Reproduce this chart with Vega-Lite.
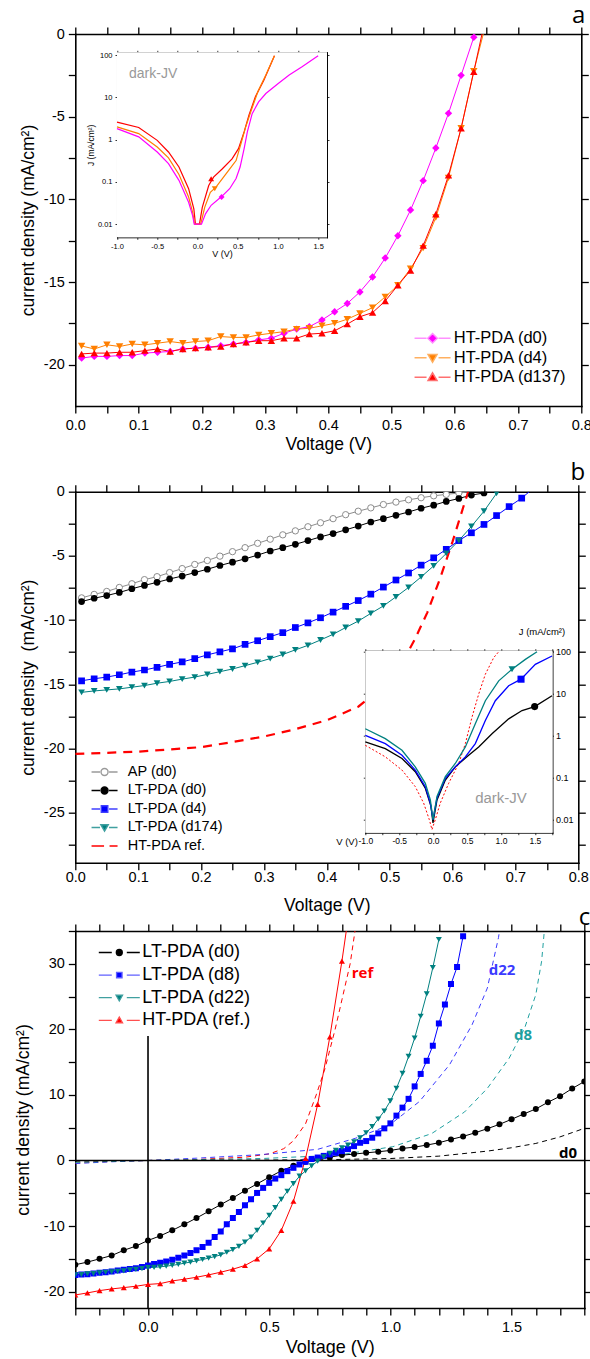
{
"$schema": "https://vega.github.io/schema/vega-lite/v6.json",
"background": "white",
"padding": {"left": 14.3, "top": 4, "right": 2, "bottom": 0},
"spacing": -7,
"config": {
 "font": "Liberation Sans",
 "view": {"stroke": null},
 "axis": {"grid": false, "zindex": 1, "labelFont": "Liberation Sans", "titleFont": "Liberation Sans", "labelColor": "#000", "titleColor": "#000", "domainColor": "#000", "tickColor": "#000", "labelFontSize": 14.5, "titleFontSize": 17.5, "titleFontWeight": "normal", "domainWidth": 1.6, "tickWidth": 1.3, "tickSize": 7, "labelOverlap": false, "labelFlush": false, "labelBound": false, "domainCap": "square"},
 "legend": {"labelFont": "Liberation Sans", "labelColor": "#000", "padding": 0, "titlePadding": 0},
 "title": {"font": "Open Sans", "fontWeight": "normal", "color": "#000", "fontSize": 24, "anchor": "end", "baseline": "alphabetic", "frame": "group"}
},
"resolve": {"scale": {"color": "independent", "shape": "independent", "fill": "independent", "stroke": "independent"}, "legend": {"color": "independent", "shape": "independent", "fill": "independent", "stroke": "independent"}},
"datasets": {
 "a_main": [
  {"s":"d0","v":0.01,"j":-19.6},{"s":"d0","v":0.03,"j":-19.5},{"s":"d0","v":0.05,"j":-19.5},{"s":"d0","v":0.07,"j":-19.45},{"s":"d0","v":0.09,"j":-19.45},{"s":"d0","v":0.11,"j":-19.3},{"s":"d0","v":0.13,"j":-19.25},{"s":"d0","v":0.15,"j":-19.2},{"s":"d0","v":0.17,"j":-19.05},{"s":"d0","v":0.19,"j":-19.0},{"s":"d0","v":0.21,"j":-18.95},{"s":"d0","v":0.23,"j":-18.85},{"s":"d0","v":0.25,"j":-18.75},{"s":"d0","v":0.27,"j":-18.65},{"s":"d0","v":0.29,"j":-18.5},{"s":"d0","v":0.31,"j":-18.4},{"s":"d0","v":0.33,"j":-18.1},{"s":"d0","v":0.35,"j":-17.85},{"s":"d0","v":0.37,"j":-17.7},{"s":"d0","v":0.39,"j":-17.3},{"s":"d0","v":0.41,"j":-16.8},{"s":"d0","v":0.43,"j":-16.3},{"s":"d0","v":0.45,"j":-15.6},{"s":"d0","v":0.47,"j":-14.7},{"s":"d0","v":0.49,"j":-13.55},{"s":"d0","v":0.51,"j":-12.2},{"s":"d0","v":0.53,"j":-10.65},{"s":"d0","v":0.55,"j":-8.87},{"s":"d0","v":0.57,"j":-6.9},{"s":"d0","v":0.59,"j":-4.8},{"s":"d0","v":0.61,"j":-2.5},{"s":"d0","v":0.63,"j":-0.2},{"s":"d0","v":0.632,"j":0,"e":1},
  {"s":"d4","v":0.01,"j":-18.87},{"s":"d4","v":0.03,"j":-19.05},{"s":"d4","v":0.05,"j":-18.8},{"s":"d4","v":0.07,"j":-18.9},{"s":"d4","v":0.09,"j":-18.75},{"s":"d4","v":0.11,"j":-18.8},{"s":"d4","v":0.13,"j":-18.7},{"s":"d4","v":0.15,"j":-18.6},{"s":"d4","v":0.17,"j":-18.7},{"s":"d4","v":0.19,"j":-18.6},{"s":"d4","v":0.21,"j":-18.55},{"s":"d4","v":0.23,"j":-18.3},{"s":"d4","v":0.25,"j":-18.35},{"s":"d4","v":0.27,"j":-18.35},{"s":"d4","v":0.29,"j":-18.2},{"s":"d4","v":0.31,"j":-18.1},{"s":"d4","v":0.33,"j":-18.0},{"s":"d4","v":0.35,"j":-17.85},{"s":"d4","v":0.37,"j":-17.8},{"s":"d4","v":0.39,"j":-17.65},{"s":"d4","v":0.41,"j":-17.5},{"s":"d4","v":0.43,"j":-17.25},{"s":"d4","v":0.45,"j":-16.9},{"s":"d4","v":0.47,"j":-16.55},{"s":"d4","v":0.49,"j":-15.9},{"s":"d4","v":0.51,"j":-15.2},{"s":"d4","v":0.53,"j":-14.2},{"s":"d4","v":0.55,"j":-12.95},{"s":"d4","v":0.57,"j":-11.1},{"s":"d4","v":0.59,"j":-8.7},{"s":"d4","v":0.61,"j":-5.7},{"s":"d4","v":0.63,"j":-2.25},{"s":"d4","v":0.645,"j":0,"e":1},
  {"s":"d137","v":0.01,"j":-19.35},{"s":"d137","v":0.03,"j":-19.3},{"s":"d137","v":0.05,"j":-19.3},{"s":"d137","v":0.07,"j":-19.25},{"s":"d137","v":0.09,"j":-19.25},{"s":"d137","v":0.11,"j":-19.15},{"s":"d137","v":0.13,"j":-19.05},{"s":"d137","v":0.15,"j":-19.2},{"s":"d137","v":0.17,"j":-19.05},{"s":"d137","v":0.19,"j":-19.0},{"s":"d137","v":0.21,"j":-18.95},{"s":"d137","v":0.23,"j":-18.9},{"s":"d137","v":0.25,"j":-18.75},{"s":"d137","v":0.27,"j":-18.65},{"s":"d137","v":0.29,"j":-18.55},{"s":"d137","v":0.31,"j":-18.55},{"s":"d137","v":0.33,"j":-18.4},{"s":"d137","v":0.35,"j":-18.4},{"s":"d137","v":0.37,"j":-18.15},{"s":"d137","v":0.39,"j":-18.1},{"s":"d137","v":0.41,"j":-17.95},{"s":"d137","v":0.43,"j":-17.55},{"s":"d137","v":0.45,"j":-17.1},{"s":"d137","v":0.47,"j":-16.85},{"s":"d137","v":0.49,"j":-16.15},{"s":"d137","v":0.51,"j":-15.2},{"s":"d137","v":0.53,"j":-14.3},{"s":"d137","v":0.55,"j":-12.8},{"s":"d137","v":0.57,"j":-10.9},{"s":"d137","v":0.59,"j":-8.55},{"s":"d137","v":0.61,"j":-5.7},{"s":"d137","v":0.63,"j":-2.28},{"s":"d137","v":0.643,"j":0,"e":1}
 ],
 "a_inset": [
  {"s":"d137","v":-1,"j":2.6},{"s":"d137","v":-0.73,"j":1.93},{"s":"d137","v":-0.5,"j":0.96},{"s":"d137","v":-0.36,"j":0.51},{"s":"d137","v":-0.23,"j":0.225},{"s":"d137","v":-0.11,"j":0.069},{"s":"d137","v":-0.045,"j":0.023},{"s":"d137","v":-0.025,"j":0.01},{"s":"d137","v":0.025,"j":0.01},{"s":"d137","v":0.06,"j":0.025},{"s":"d137","v":0.14,"j":0.082},{"s":"d137","v":0.2,"j":0.13},{"s":"d137","v":0.31,"j":0.205},{"s":"d137","v":0.43,"j":0.35},{"s":"d137","v":0.51,"j":0.61},{"s":"d137","v":0.58,"j":1.52},{"s":"d137","v":0.64,"j":3.8},{"s":"d137","v":0.72,"j":10.3},{"s":"d137","v":0.825,"j":25.5},{"s":"d137","v":0.957,"j":96},
  {"s":"d4","v":-1,"j":2.0},{"s":"d4","v":-0.73,"j":1.39},{"s":"d4","v":-0.5,"j":0.67},{"s":"d4","v":-0.36,"j":0.37},{"s":"d4","v":-0.23,"j":0.15},{"s":"d4","v":-0.11,"j":0.044},{"s":"d4","v":-0.06,"j":0.019},{"s":"d4","v":-0.035,"j":0.01},{"s":"d4","v":0.04,"j":0.01},{"s":"d4","v":0.09,"j":0.025},{"s":"d4","v":0.16,"j":0.057},{"s":"d4","v":0.23,"j":0.075},{"s":"d4","v":0.31,"j":0.12},{"s":"d4","v":0.39,"j":0.19},{"s":"d4","v":0.48,"j":0.32},{"s":"d4","v":0.54,"j":0.8},{"s":"d4","v":0.6,"j":2.0},{"s":"d4","v":0.67,"j":5.0},{"s":"d4","v":0.75,"j":13.5},{"s":"d4","v":0.85,"j":33.5},{"s":"d4","v":0.957,"j":96},
  {"s":"d0","v":-1,"j":1.82},{"s":"d0","v":-0.73,"j":1.16},{"s":"d0","v":-0.5,"j":0.51},{"s":"d0","v":-0.36,"j":0.27},{"s":"d0","v":-0.23,"j":0.109},{"s":"d0","v":-0.11,"j":0.033},{"s":"d0","v":-0.06,"j":0.016},{"s":"d0","v":-0.04,"j":0.01},{"s":"d0","v":0.05,"j":0.01},{"s":"d0","v":0.1,"j":0.0176},{"s":"d0","v":0.17,"j":0.028},{"s":"d0","v":0.3,"j":0.045},{"s":"d0","v":0.4,"j":0.069},{"s":"d0","v":0.48,"j":0.12},{"s":"d0","v":0.53,"j":0.225},{"s":"d0","v":0.58,"j":0.61},{"s":"d0","v":0.62,"j":1.52},{"s":"d0","v":0.68,"j":4.1},{"s":"d0","v":0.76,"j":7.8},{"s":"d0","v":0.85,"j":12.3},{"s":"d0","v":1.0,"j":21},{"s":"d0","v":1.14,"j":33.5},{"s":"d0","v":1.3,"j":52.6},{"s":"d0","v":1.5,"j":96}
 ],
 "a_mk": [{"s":"d137","v":0.17,"j":0.119},{"s":"d4","v":0.215,"j":0.069},{"s":"d0","v":0.3,"j":0.044}],
 "a_box": [{"x1":-1,"x2":1.61,"y1":0.0049,"y2":116}],
 "a_txt": [{"v":-0.85,"j":35,"t":"dark-JV"}],
 "b_main": [
  {"s":"AP","v":0.01,"j":-8.27},{"s":"AP","v":0.03,"j":-8.0},{"s":"AP","v":0.05,"j":-7.77},{"s":"AP","v":0.07,"j":-7.46},{"s":"AP","v":0.09,"j":-7.17},{"s":"AP","v":0.11,"j":-6.85},{"s":"AP","v":0.13,"j":-6.62},{"s":"AP","v":0.15,"j":-6.3},{"s":"AP","v":0.17,"j":-5.99},{"s":"AP","v":0.19,"j":-5.67},{"s":"AP","v":0.21,"j":-5.36},{"s":"AP","v":0.23,"j":-5.02},{"s":"AP","v":0.25,"j":-4.67},{"s":"AP","v":0.27,"j":-4.36},{"s":"AP","v":0.29,"j":-4.02},{"s":"AP","v":0.31,"j":-3.7},{"s":"AP","v":0.33,"j":-3.36},{"s":"AP","v":0.35,"j":-3.05},{"s":"AP","v":0.37,"j":-2.73},{"s":"AP","v":0.39,"j":-2.42},{"s":"AP","v":0.41,"j":-2.1},{"s":"AP","v":0.43,"j":-1.79},{"s":"AP","v":0.45,"j":-1.52},{"s":"AP","v":0.47,"j":-1.26},{"s":"AP","v":0.49,"j":-1.0},{"s":"AP","v":0.51,"j":-0.81},{"s":"AP","v":0.53,"j":-0.63},{"s":"AP","v":0.55,"j":-0.47},{"s":"AP","v":0.57,"j":-0.32},{"s":"AP","v":0.59,"j":-0.21},{"s":"AP","v":0.61,"j":-0.1},{"s":"AP","v":0.63,"j":0,"e":1},
  {"s":"L0","v":0.01,"j":-8.56},{"s":"L0","v":0.03,"j":-8.3},{"s":"L0","v":0.05,"j":-8.09},{"s":"L0","v":0.07,"j":-7.85},{"s":"L0","v":0.09,"j":-7.56},{"s":"L0","v":0.11,"j":-7.3},{"s":"L0","v":0.13,"j":-7.06},{"s":"L0","v":0.15,"j":-6.8},{"s":"L0","v":0.17,"j":-6.57},{"s":"L0","v":0.19,"j":-6.3},{"s":"L0","v":0.21,"j":-6.04},{"s":"L0","v":0.23,"j":-5.75},{"s":"L0","v":0.25,"j":-5.49},{"s":"L0","v":0.27,"j":-5.23},{"s":"L0","v":0.29,"j":-4.94},{"s":"L0","v":0.31,"j":-4.62},{"s":"L0","v":0.33,"j":-4.36},{"s":"L0","v":0.35,"j":-4.1},{"s":"L0","v":0.37,"j":-3.81},{"s":"L0","v":0.39,"j":-3.52},{"s":"L0","v":0.41,"j":-3.26},{"s":"L0","v":0.43,"j":-2.97},{"s":"L0","v":0.45,"j":-2.68},{"s":"L0","v":0.47,"j":-2.36},{"s":"L0","v":0.49,"j":-2.1},{"s":"L0","v":0.51,"j":-1.84},{"s":"L0","v":0.53,"j":-1.58},{"s":"L0","v":0.55,"j":-1.29},{"s":"L0","v":0.57,"j":-1.05},{"s":"L0","v":0.59,"j":-0.76},{"s":"L0","v":0.61,"j":-0.53},{"s":"L0","v":0.63,"j":-0.26},{"s":"L0","v":0.65,"j":-0.1},{"s":"L0","v":0.655,"j":0,"e":1},
  {"s":"L4","v":0.01,"j":-14.73},{"s":"L4","v":0.03,"j":-14.57},{"s":"L4","v":0.05,"j":-14.44},{"s":"L4","v":0.07,"j":-14.26},{"s":"L4","v":0.09,"j":-14.05},{"s":"L4","v":0.11,"j":-13.89},{"s":"L4","v":0.13,"j":-13.68},{"s":"L4","v":0.15,"j":-13.45},{"s":"L4","v":0.17,"j":-13.26},{"s":"L4","v":0.19,"j":-13.0},{"s":"L4","v":0.21,"j":-12.71},{"s":"L4","v":0.23,"j":-12.47},{"s":"L4","v":0.25,"j":-12.24},{"s":"L4","v":0.27,"j":-11.9},{"s":"L4","v":0.29,"j":-11.61},{"s":"L4","v":0.31,"j":-11.29},{"s":"L4","v":0.33,"j":-10.98},{"s":"L4","v":0.35,"j":-10.58},{"s":"L4","v":0.37,"j":-10.22},{"s":"L4","v":0.39,"j":-9.82},{"s":"L4","v":0.41,"j":-9.38},{"s":"L4","v":0.43,"j":-8.93},{"s":"L4","v":0.45,"j":-8.48},{"s":"L4","v":0.47,"j":-7.98},{"s":"L4","v":0.49,"j":-7.43},{"s":"L4","v":0.51,"j":-6.88},{"s":"L4","v":0.53,"j":-6.33},{"s":"L4","v":0.55,"j":-5.72},{"s":"L4","v":0.57,"j":-5.15},{"s":"L4","v":0.59,"j":-4.49},{"s":"L4","v":0.61,"j":-3.81},{"s":"L4","v":0.63,"j":-3.2},{"s":"L4","v":0.65,"j":-2.55},{"s":"L4","v":0.67,"j":-1.86},{"s":"L4","v":0.69,"j":-1.16},{"s":"L4","v":0.71,"j":-0.5},{"s":"L4","v":0.722,"j":0,"e":1},
  {"s":"L174","v":0.01,"j":-15.63},{"s":"L174","v":0.03,"j":-15.52},{"s":"L174","v":0.05,"j":-15.44},{"s":"L174","v":0.07,"j":-15.36},{"s":"L174","v":0.09,"j":-15.23},{"s":"L174","v":0.11,"j":-15.1},{"s":"L174","v":0.13,"j":-14.92},{"s":"L174","v":0.15,"j":-14.78},{"s":"L174","v":0.17,"j":-14.6},{"s":"L174","v":0.19,"j":-14.44},{"s":"L174","v":0.21,"j":-14.23},{"s":"L174","v":0.23,"j":-14.02},{"s":"L174","v":0.25,"j":-13.81},{"s":"L174","v":0.27,"j":-13.55},{"s":"L174","v":0.29,"j":-13.29},{"s":"L174","v":0.31,"j":-13.0},{"s":"L174","v":0.33,"j":-12.68},{"s":"L174","v":0.35,"j":-12.32},{"s":"L174","v":0.37,"j":-11.97},{"s":"L174","v":0.39,"j":-11.55},{"s":"L174","v":0.41,"j":-11.11},{"s":"L174","v":0.43,"j":-10.58},{"s":"L174","v":0.45,"j":-10.08},{"s":"L174","v":0.47,"j":-9.48},{"s":"L174","v":0.49,"j":-8.9},{"s":"L174","v":0.51,"j":-8.19},{"s":"L174","v":0.53,"j":-7.46},{"s":"L174","v":0.55,"j":-6.64},{"s":"L174","v":0.57,"j":-5.78},{"s":"L174","v":0.59,"j":-4.81},{"s":"L174","v":0.61,"j":-3.81},{"s":"L174","v":0.63,"j":-2.7},{"s":"L174","v":0.65,"j":-1.52},{"s":"L174","v":0.67,"j":-0.13}
 ],
 "b_ref": [{"v":0,"j":-20.43},{"v":0.1,"j":-20.25},{"v":0.2,"j":-19.9},{"v":0.25,"j":-19.5},{"v":0.3,"j":-19.07},{"v":0.35,"j":-18.5},{"v":0.4,"j":-17.8},{"v":0.45,"j":-16.75},{"v":0.48,"j":-15.57},{"v":0.5,"j":-14.65},{"v":0.52,"j":-13.29},{"v":0.54,"j":-11.5},{"v":0.56,"j":-9.4},{"v":0.58,"j":-6.78},{"v":0.6,"j":-3.89},{"v":0.61,"j":-2.31},{"v":0.62,"j":-0.74},{"v":0.625,"j":0}],
 "b_inset": [
  {"s":"ref","v":-1,"j":0.58},{"s":"ref","v":-0.705,"j":0.308},{"s":"ref","v":-0.459,"j":0.149},{"s":"ref","v":-0.263,"j":0.06},{"s":"ref","v":-0.14,"j":0.0244},{"s":"ref","v":-0.056,"j":0.0098},{"s":"ref","v":-0.017,"j":0.0057},{"s":"ref","v":0.032,"j":0.0098},{"s":"ref","v":0.106,"j":0.0244},{"s":"ref","v":0.229,"j":0.072},{"s":"ref","v":0.377,"j":0.214},{"s":"ref","v":0.475,"j":0.636},{"s":"ref","v":0.573,"j":2.71},{"s":"ref","v":0.672,"j":9.64},{"s":"ref","v":0.77,"j":28.6},{"s":"ref","v":0.893,"j":71},{"s":"ref","v":0.967,"j":98.5},
  {"s":"L0","v":-1,"j":0.696},{"s":"L0","v":-0.705,"j":0.484},{"s":"L0","v":-0.459,"j":0.281},{"s":"L0","v":-0.263,"j":0.136},{"s":"L0","v":-0.115,"j":0.055},{"s":"L0","v":-0.031,"j":0.0203},{"s":"L0","v":-0.002,"j":0.0082},{"s":"L0","v":0.057,"j":0.029},{"s":"L0","v":0.18,"j":0.086},{"s":"L0","v":0.327,"j":0.178},{"s":"L0","v":0.524,"j":0.337},{"s":"L0","v":0.672,"j":0.53},{"s":"L0","v":0.868,"j":1.09},{"s":"L0","v":1.114,"j":2.47},{"s":"L0","v":1.311,"j":3.9},{"s":"L0","v":1.497,"j":4.84},{"s":"L0","v":1.753,"j":8.8},
  {"s":"L4","v":-1,"j":1.0},{"s":"L4","v":-0.705,"j":0.636},{"s":"L4","v":-0.459,"j":0.337},{"s":"L4","v":-0.263,"j":0.149},{"s":"L4","v":-0.115,"j":0.06},{"s":"L4","v":-0.041,"j":0.024},{"s":"L4","v":-0.002,"j":0.0098},{"s":"L4","v":0.057,"j":0.032},{"s":"L4","v":0.18,"j":0.095},{"s":"L4","v":0.327,"j":0.178},{"s":"L4","v":0.475,"j":0.308},{"s":"L4","v":0.622,"j":0.636},{"s":"L4","v":0.77,"j":2.26},{"s":"L4","v":0.917,"j":6.7},{"s":"L4","v":1.114,"j":15.2},{"s":"L4","v":1.296,"j":21.8},{"s":"L4","v":1.507,"j":49.3},{"s":"L4","v":1.753,"j":77.6},
  {"s":"L174","v":-1,"j":1.44},{"s":"L174","v":-0.705,"j":0.834},{"s":"L174","v":-0.459,"j":0.442},{"s":"L174","v":-0.263,"j":0.178},{"s":"L174","v":-0.115,"j":0.072},{"s":"L174","v":-0.041,"j":0.029},{"s":"L174","v":-0.002,"j":0.0098},{"s":"L174","v":0.057,"j":0.035},{"s":"L174","v":0.18,"j":0.104},{"s":"L174","v":0.327,"j":0.214},{"s":"L174","v":0.475,"j":0.53},{"s":"L174","v":0.622,"j":1.89},{"s":"L174","v":0.77,"j":6.7},{"s":"L174","v":0.967,"j":19.9},{"s":"L174","v":1.163,"j":37.6},{"s":"L174","v":1.36,"j":64.6},{"s":"L174","v":1.532,"j":98.5}
 ],
 "b_mk": [{"s":"L174","v":1.163,"j":37.6},{"s":"L4","v":1.296,"j":21.8},{"s":"L0","v":1.497,"j":4.84}],
 "b_box": [{"x1":-1,"x2":1.76,"y1":0.0048,"y2":104}],
 "b_txt": [{"v":1.0,"j":0.032,"t":"dark-JV"}],
 "c_main": [
  {"s":"L0","v":-0.3,"j":-15.9},{"s":"L0","v":-0.25,"j":-15.5},{"s":"L0","v":-0.2,"j":-15.0},{"s":"L0","v":-0.15,"j":-14.5},{"s":"L0","v":-0.1,"j":-13.7},{"s":"L0","v":-0.05,"j":-13.06},{"s":"L0","v":0.0,"j":-12.2},{"s":"L0","v":0.05,"j":-11.5},{"s":"L0","v":0.1,"j":-10.66},{"s":"L0","v":0.15,"j":-9.74},{"s":"L0","v":0.2,"j":-8.78},{"s":"L0","v":0.25,"j":-7.76},{"s":"L0","v":0.3,"j":-6.73},{"s":"L0","v":0.35,"j":-5.71},{"s":"L0","v":0.4,"j":-4.6},{"s":"L0","v":0.45,"j":-3.57},{"s":"L0","v":0.5,"j":-2.55},{"s":"L0","v":0.55,"j":-1.58},{"s":"L0","v":0.6,"j":-0.82},{"s":"L0","v":0.65,"j":-0.2},{"s":"L0","v":0.7,"j":0.3},{"s":"L0","v":0.75,"j":0.5},{"s":"L0","v":0.8,"j":0.82},{"s":"L0","v":0.85,"j":0.97},{"s":"L0","v":0.9,"j":1.17},{"s":"L0","v":0.95,"j":1.33},{"s":"L0","v":1.0,"j":1.53},{"s":"L0","v":1.05,"j":1.84},{"s":"L0","v":1.1,"j":2.04},{"s":"L0","v":1.15,"j":2.35},{"s":"L0","v":1.2,"j":2.7},{"s":"L0","v":1.25,"j":3.21},{"s":"L0","v":1.3,"j":3.67},{"s":"L0","v":1.35,"j":4.23},{"s":"L0","v":1.4,"j":4.85},{"s":"L0","v":1.45,"j":5.51},{"s":"L0","v":1.5,"j":6.28},{"s":"L0","v":1.55,"j":7.09},{"s":"L0","v":1.6,"j":7.86},{"s":"L0","v":1.65,"j":8.88},{"s":"L0","v":1.7,"j":9.8},{"s":"L0","v":1.75,"j":10.97},{"s":"L0","v":1.8,"j":12.04},
  {"s":"L8","v":-0.3,"j":-17.45},{"s":"L8","v":-0.275,"j":-17.4},{"s":"L8","v":-0.25,"j":-17.35},{"s":"L8","v":-0.225,"j":-17.25},{"s":"L8","v":-0.2,"j":-17.14},{"s":"L8","v":-0.175,"j":-17.05},{"s":"L8","v":-0.15,"j":-16.94},{"s":"L8","v":-0.125,"j":-16.8},{"s":"L8","v":-0.1,"j":-16.68},{"s":"L8","v":-0.075,"j":-16.55},{"s":"L8","v":-0.05,"j":-16.43},{"s":"L8","v":-0.025,"j":-16.25},{"s":"L8","v":0.0,"j":-16.02},{"s":"L8","v":0.025,"j":-15.8},{"s":"L8","v":0.05,"j":-15.6},{"s":"L8","v":0.075,"j":-15.4},{"s":"L8","v":0.1,"j":-15.15},{"s":"L8","v":0.125,"j":-14.85},{"s":"L8","v":0.15,"j":-14.5},{"s":"L8","v":0.175,"j":-14.1},{"s":"L8","v":0.2,"j":-13.7},{"s":"L8","v":0.225,"j":-13.2},{"s":"L8","v":0.25,"j":-12.55},{"s":"L8","v":0.275,"j":-11.68},{"s":"L8","v":0.3,"j":-10.82},{"s":"L8","v":0.325,"j":-9.74},{"s":"L8","v":0.35,"j":-8.78},{"s":"L8","v":0.375,"j":-7.86},{"s":"L8","v":0.4,"j":-6.84},{"s":"L8","v":0.425,"j":-5.92},{"s":"L8","v":0.45,"j":-4.95},{"s":"L8","v":0.475,"j":-4.18},{"s":"L8","v":0.5,"j":-3.42},{"s":"L8","v":0.525,"j":-2.76},{"s":"L8","v":0.55,"j":-2.24},{"s":"L8","v":0.575,"j":-1.63},{"s":"L8","v":0.6,"j":-1.12},{"s":"L8","v":0.625,"j":-0.61},{"s":"L8","v":0.65,"j":-0.2},{"s":"L8","v":0.675,"j":0.22},{"s":"L8","v":0.7,"j":0.45},{"s":"L8","v":0.725,"j":0.7},{"s":"L8","v":0.75,"j":0.92},{"s":"L8","v":0.775,"j":1.17},{"s":"L8","v":0.8,"j":1.43},{"s":"L8","v":0.825,"j":1.73},{"s":"L8","v":0.85,"j":2.19},{"s":"L8","v":0.875,"j":2.7},{"s":"L8","v":0.9,"j":2.96},{"s":"L8","v":0.925,"j":3.47},{"s":"L8","v":0.95,"j":4.13},{"s":"L8","v":0.975,"j":4.9},{"s":"L8","v":1.0,"j":5.66},{"s":"L8","v":1.025,"j":6.84},{"s":"L8","v":1.05,"j":8.06},{"s":"L8","v":1.075,"j":9.4},{"s":"L8","v":1.1,"j":11.3},{"s":"L8","v":1.125,"j":13.2},{"s":"L8","v":1.15,"j":15.2},{"s":"L8","v":1.175,"j":17.5},{"s":"L8","v":1.2,"j":20.9},{"s":"L8","v":1.225,"j":23.8},{"s":"L8","v":1.25,"j":26.9},{"s":"L8","v":1.275,"j":29.5},{"s":"L8","v":1.3,"j":34.2},
  {"s":"L22","v":-0.3,"j":-17.45},{"s":"L22","v":-0.275,"j":-17.4},{"s":"L22","v":-0.25,"j":-17.3},{"s":"L22","v":-0.225,"j":-17.25},{"s":"L22","v":-0.2,"j":-17.14},{"s":"L22","v":-0.175,"j":-17.05},{"s":"L22","v":-0.15,"j":-16.98},{"s":"L22","v":-0.125,"j":-16.9},{"s":"L22","v":-0.1,"j":-16.84},{"s":"L22","v":-0.075,"j":-16.7},{"s":"L22","v":-0.05,"j":-16.6},{"s":"L22","v":-0.025,"j":-16.5},{"s":"L22","v":0.0,"j":-16.35},{"s":"L22","v":0.025,"j":-16.3},{"s":"L22","v":0.05,"j":-16.22},{"s":"L22","v":0.075,"j":-16.12},{"s":"L22","v":0.1,"j":-16.0},{"s":"L22","v":0.125,"j":-15.85},{"s":"L22","v":0.15,"j":-15.66},{"s":"L22","v":0.175,"j":-15.5},{"s":"L22","v":0.2,"j":-15.3},{"s":"L22","v":0.225,"j":-15.1},{"s":"L22","v":0.25,"j":-14.9},{"s":"L22","v":0.275,"j":-14.65},{"s":"L22","v":0.3,"j":-14.4},{"s":"L22","v":0.325,"j":-14.0},{"s":"L22","v":0.35,"j":-13.6},{"s":"L22","v":0.375,"j":-13.1},{"s":"L22","v":0.4,"j":-12.45},{"s":"L22","v":0.425,"j":-11.68},{"s":"L22","v":0.45,"j":-10.66},{"s":"L22","v":0.475,"j":-9.54},{"s":"L22","v":0.5,"j":-8.37},{"s":"L22","v":0.525,"j":-7.19},{"s":"L22","v":0.55,"j":-5.92},{"s":"L22","v":0.575,"j":-4.69},{"s":"L22","v":0.6,"j":-3.52},{"s":"L22","v":0.625,"j":-2.4},{"s":"L22","v":0.65,"j":-1.58},{"s":"L22","v":0.675,"j":-0.82},{"s":"L22","v":0.7,"j":-0.1},{"s":"L22","v":0.725,"j":0.56},{"s":"L22","v":0.75,"j":1.07},{"s":"L22","v":0.775,"j":1.53},{"s":"L22","v":0.8,"j":1.94},{"s":"L22","v":0.825,"j":2.35},{"s":"L22","v":0.85,"j":2.86},{"s":"L22","v":0.875,"j":3.47},{"s":"L22","v":0.9,"j":4.23},{"s":"L22","v":0.925,"j":5.15},{"s":"L22","v":0.95,"j":6.33},{"s":"L22","v":0.975,"j":7.55},{"s":"L22","v":1.0,"j":9.08},{"s":"L22","v":1.025,"j":11.02},{"s":"L22","v":1.05,"j":13.27},{"s":"L22","v":1.075,"j":15.87},{"s":"L22","v":1.1,"j":18.67},{"s":"L22","v":1.125,"j":22.0},{"s":"L22","v":1.15,"j":25.4},{"s":"L22","v":1.175,"j":29.4},{"s":"L22","v":1.2,"j":33.7},
  {"s":"ref","v":-0.3,"j":-20.51},{"s":"ref","v":-0.25,"j":-20.2},{"s":"ref","v":-0.2,"j":-19.85},{"s":"ref","v":-0.15,"j":-19.59},{"s":"ref","v":-0.1,"j":-19.39},{"s":"ref","v":-0.05,"j":-19.18},{"s":"ref","v":0.0,"j":-18.9},{"s":"ref","v":0.05,"j":-18.78},{"s":"ref","v":0.1,"j":-18.37},{"s":"ref","v":0.15,"j":-18.11},{"s":"ref","v":0.2,"j":-17.81},{"s":"ref","v":0.25,"j":-17.45},{"s":"ref","v":0.3,"j":-17.04},{"s":"ref","v":0.35,"j":-16.58},{"s":"ref","v":0.4,"j":-16.02},{"s":"ref","v":0.45,"j":-15.0},{"s":"ref","v":0.5,"j":-13.47},{"s":"ref","v":0.55,"j":-10.66},{"s":"ref","v":0.6,"j":-6.22},{"s":"ref","v":0.65,"j":0.31},{"s":"ref","v":0.7,"j":8.57},{"s":"ref","v":0.75,"j":18.83},{"s":"ref","v":0.8,"j":30.4},{"s":"ref","v":0.818,"j":35,"e":1}
 ],
 "c_dash": [
  {"s":"dref","v":-0.3,"j":-0.4},{"s":"dref","v":-0.15,"j":-0.15},{"s":"dref","v":0,"j":0},{"s":"dref","v":0.2,"j":0.15},{"s":"dref","v":0.4,"j":0.5},{"s":"dref","v":0.5,"j":1.0},{"s":"dref","v":0.56,"j":1.8},{"s":"dref","v":0.6,"j":3.0},{"s":"dref","v":0.65,"j":5.6},{"s":"dref","v":0.694,"j":10},{"s":"dref","v":0.73,"j":14},{"s":"dref","v":0.772,"j":20},{"s":"dref","v":0.8,"j":24.5},{"s":"dref","v":0.834,"j":30},{"s":"dref","v":0.854,"j":35},
  {"s":"d22","v":-0.3,"j":-0.46},{"s":"d22","v":-0.15,"j":-0.2},{"s":"d22","v":0,"j":0},{"s":"d22","v":0.2,"j":0.35},{"s":"d22","v":0.47,"j":0.9},{"s":"d22","v":0.7,"j":1.7},{"s":"d22","v":0.857,"j":3.4},{"s":"d22","v":0.996,"j":5.4},{"s":"d22","v":1.12,"j":9},{"s":"d22","v":1.244,"j":14.6},{"s":"d22","v":1.337,"j":20.7},{"s":"d22","v":1.4,"j":26.3},{"s":"d22","v":1.446,"j":34},{"s":"d22","v":1.45,"j":35},
  {"s":"d8","v":-0.3,"j":-0.3},{"s":"d8","v":0,"j":0},{"s":"d8","v":0.47,"j":0.3},{"s":"d8","v":0.78,"j":0.8},{"s":"d8","v":1.01,"j":2.1},{"s":"d8","v":1.17,"j":4.1},{"s":"d8","v":1.306,"j":7.4},{"s":"d8","v":1.4,"j":11},{"s":"d8","v":1.49,"j":15.6},{"s":"d8","v":1.554,"j":20.2},{"s":"d8","v":1.6,"j":25.3},{"s":"d8","v":1.624,"j":30.4},{"s":"d8","v":1.635,"j":35},
  {"s":"d0","v":-0.3,"j":-0.1},{"s":"d0","v":0,"j":0},{"s":"d0","v":0.7,"j":0.1},{"s":"d0","v":1.0,"j":0.3},{"s":"d0","v":1.2,"j":0.66},{"s":"d0","v":1.4,"j":1.43},{"s":"d0","v":1.5,"j":1.94},{"s":"d0","v":1.6,"j":2.6},{"s":"d0","v":1.7,"j":3.6},{"s":"d0","v":1.8,"j":4.9}
 ],
 "c_lbl": [{"s":"dref","v":0.885,"j":28.6,"t":"ref"},{"s":"d22","v":1.461,"j":29.0,"t":"d22"},{"s":"d8","v":1.547,"j":19.2,"t":"d8"},{"s":"d0","v":1.733,"j":1.07,"t":"d0"}],
 "c_hr": [{"v":-0.3,"v2":1.8,"j":0}],
 "c_vr": [{"v":0,"j":-22.5,"j2":19}]
},
"vconcat": [
 {
 "spacing": 85.7,
 "bounds": "flush",
 "resolve": {"scale": {"color": "independent", "shape": "independent", "fill": "independent", "stroke": "independent"}, "legend": {"color": "independent", "shape": "independent", "fill": "independent", "stroke": "independent"}},
 "vconcat": [
 {
  "width": 506, "height": 372,
  "title": {"text": "a", "offset": -2, "dx": 4},
  "resolve": {"scale": {"x": "independent", "y": "independent", "shape": "independent"}, "axis": {"x": "independent", "y": "independent"}, "legend": {"color": "independent", "shape": "independent", "fill": "independent", "stroke": "independent"}},
  "layer": [
   {
    "data": {"name": "a_main"},
    "mark": {"type": "line", "strokeWidth": 1, "clip": true},
    "encoding": {
     "x": {"field": "v", "type": "quantitative", "scale": {"domain": [0, 0.8], "nice": false, "zero": false},
      "axis": {"orient": "bottom", "values": [0,0.05,0.1,0.15,0.2,0.25,0.3,0.35,0.4,0.45,0.5,0.55,0.6,0.65,0.7,0.75,0.8], "labelExpr": "abs(datum.value*10-round(datum.value*10))<1e-6 ? format(datum.value,'.1f') : ''", "title": "Voltage (V)", "labelPadding": 5, "titlePadding": 4, "encode": {"ticks": {"update": {"y2": {"signal": "abs(datum.value*10-round(datum.value*10))<1e-6 ? 7 : 4"}}}}}},
     "y": {"field": "j", "type": "quantitative", "scale": {"domain": [-22.5, 0], "nice": false, "zero": false},
      "axis": {"orient": "left", "values": [-20,-17.5,-15,-12.5,-10,-7.5,-5,-2.5,0], "labelExpr": "abs(datum.value/5-round(datum.value/5))<1e-6 ? ''+datum.value : ''", "title": "current density (mA/cm²)", "labelPadding": 4, "titlePadding": 6, "encode": {"ticks": {"update": {"x2": {"signal": "abs(datum.value/5-round(datum.value/5))<1e-6 ? -7 : -4"}}}}}},
     "color": {"field": "s", "type": "nominal", "scale": {"domain": ["d0","d4","d137"], "range": ["#ff00ff","#ff7f00","#ff0000"]}, "legend": null}
    }
   },
   {
    "data": {"name": "a_main"},
    "transform": [{"filter": "!datum.e"}],
    "mark": {"type": "point", "filled": true, "opacity": 1, "size": 55, "clip": true},
    "encoding": {
     "x": {"field": "v", "type": "quantitative", "scale": {"domain": [0, 0.8], "nice": false, "zero": false},
      "axis": {"orient": "top", "values": [0,0.05,0.1,0.15,0.2,0.25,0.3,0.35,0.4,0.45,0.5,0.55,0.6,0.65,0.7,0.75,0.8], "labels": false, "title": null, "encode": {"ticks": {"update": {"y2": {"signal": "abs(datum.value*10-round(datum.value*10))<1e-6 ? 7 : 4"}}}}}},
     "y": {"field": "j", "type": "quantitative", "scale": {"domain": [-22.5, 0], "nice": false, "zero": false},
      "axis": {"orient": "right", "values": [-20,-17.5,-15,-12.5,-10,-7.5,-5,-2.5,0], "labels": false, "title": null, "encode": {"ticks": {"update": {"x2": {"signal": "abs(datum.value/5-round(datum.value/5))<1e-6 ? -7 : -4"}}}}}},
     "color": {"field": "s", "type": "nominal", "scale": {"domain": ["d0","d4","d137"], "range": ["#ff00ff","#ff7f00","#ff0000"]}, "legend": null},
     "shape": {"field": "s", "type": "nominal", "scale": {"domain": ["d0","d4","d137"], "range": ["diamond","triangle-down","triangle-up"]}, "legend": null}
    }
   },
   {
    "data": {"name": "a_main"},
    "transform": [{"filter": "false"}],
    "mark": {"type": "point", "opacity": 1, "size": 100, "strokeWidth": 1.5},
    "encoding": {
     "x": {"field": "v", "type": "quantitative", "scale": {"domain": [0, 0.8], "nice": false, "zero": false}, "axis": null},
     "y": {"field": "j", "type": "quantitative", "scale": {"domain": [-22.5, 0], "nice": false, "zero": false}, "axis": null},
     "fill": {"field": "s", "type": "nominal", "scale": {"domain": ["d0","d4","d137"], "range": ["#ff00ff","#ff7f00","#ff0000"]},
      "legend": {"title": null, "orient": "none", "legendX": 349, "legendY": 296, "labelFontSize": 16.5, "symbolSize": 100, "symbolStrokeWidth": 1.5, "labelOffset": 13, "rowPadding": 2.5, "labelExpr": "'HT-PDA (' + datum.label + ')'"}},
     "stroke": {"field": "s", "type": "nominal", "scale": {"domain": ["d0","d4","d137"], "range": ["#ff90ff","#ffb060","#ff7070"]},
      "legend": {"title": null, "orient": "none", "legendX": 349, "legendY": 296, "labelFontSize": 16.5, "symbolSize": 100, "symbolStrokeWidth": 1.5, "labelOffset": 13, "rowPadding": 2.5, "labelExpr": "'HT-PDA (' + datum.label + ')'"}},
     "shape": {"field": "s", "type": "nominal", "scale": {"domain": ["d0","d4","d137"], "range": ["M-3.6,0L-1.2,0M1.2,0L3.6,0M0,-0.95L0.95,0L0,0.95L-0.95,0Z", "M-3.6,0L-1.2,0M1.2,0L3.6,0M-0.9,-0.65L0.9,-0.65L0,0.9Z", "M-3.6,0L-1.2,0M1.2,0L3.6,0M0,-0.9L0.9,0.65L-0.9,0.65Z"]},
      "legend": {"title": null, "orient": "none", "legendX": 349, "legendY": 296, "labelFontSize": 16.5, "symbolSize": 100, "symbolStrokeWidth": 1.5, "labelOffset": 13, "rowPadding": 2.5, "labelExpr": "'HT-PDA (' + datum.label + ')'"}}
    }
   },
   {
    "data": {"name": "a_box"},
    "mark": {"type": "rect", "fill": "white", "stroke": null},
    "encoding": {
     "x": {"field": "x1", "type": "quantitative", "scale": {"domain": [-1, 1.61], "range": [41.7, 251.7], "nice": false, "zero": false},
      "axis": {"orient": "bottom", "offset": -168.7, "values": [-1,-0.75,-0.5,-0.25,0,0.25,0.5,0.75,1,1.25,1.5], "labelExpr": "abs(datum.value*2-round(datum.value*2))<1e-6 ? replace(format(datum.value,'.1f'),'−','-') : ''", "labelFontSize": 7.5, "labelPadding": 3, "tickSize": 2, "title": "V (V)", "titleFontSize": 9, "titlePadding": 0, "domainWidth": 1, "tickWidth": 0.8, "encode": {"ticks": {"update": {"y2": {"signal": "abs(datum.value*2-round(datum.value*2))<1e-6 ? -3 : -1.5"}}}}}},
     "x2": {"field": "x2"},
     "y": {"field": "y1", "type": "quantitative", "scale": {"type": "log", "domain": [0.0049, 116], "range": [203.3, 18.3], "nice": false},
      "axis": {"orient": "left", "offset": -41.7, "values": [0.01,0.1,1,10,100], "labelExpr": "format(datum.value,'~g')", "labelFontSize": 7.5, "labelPadding": 3, "tickSize": 2, "title": "J (mA/cm²)", "titleFontSize": 8.5, "titlePadding": 2, "domainWidth": 1, "tickWidth": 0.8, "encode": {"ticks": {"update": {"x2": {"value": 3}}}}}},
     "y2": {"field": "y2"}
    }
   },
   {
    "data": {"name": "a_inset"},
    "mark": {"type": "line", "strokeWidth": 1.2},
    "encoding": {
     "x": {"field": "v", "type": "quantitative", "scale": {"domain": [-1, 1.61], "range": [41.7, 251.7], "nice": false, "zero": false},
      "axis": {"orient": "top", "offset": -18.3, "values": [-1,-0.75,-0.5,-0.25,0,0.25,0.5,0.75,1,1.25,1.5], "labels": false, "title": null, "tickSize": 2, "domainWidth": 1, "tickWidth": 0.8, "encode": {"ticks": {"update": {"y2": {"signal": "abs(datum.value*2-round(datum.value*2))<1e-6 ? 3 : 1.5"}}}}}},
     "y": {"field": "j", "type": "quantitative", "scale": {"type": "log", "domain": [0.0049, 116], "range": [203.3, 18.3], "nice": false},
      "axis": {"orient": "right", "offset": -254.3, "values": [0.01,0.1,1,10,100], "labels": false, "title": null, "tickSize": 2, "domainWidth": 1, "tickWidth": 0.8, "encode": {"ticks": {"update": {"x2": {"value": -3}}}}}},
     "color": {"field": "s", "type": "nominal", "scale": {"domain": ["d0","d4","d137"], "range": ["#ff00ff","#ff7f00","#ff0000"]}, "legend": null}
    }
   },
   {
    "data": {"name": "a_mk"},
    "mark": {"type": "point", "filled": true, "opacity": 1, "size": 35},
    "encoding": {
     "x": {"field": "v", "type": "quantitative", "scale": {"domain": [-1, 1.61], "range": [41.7, 251.7], "nice": false, "zero": false}, "axis": null},
     "y": {"field": "j", "type": "quantitative", "scale": {"type": "log", "domain": [0.0049, 116], "range": [203.3, 18.3], "nice": false}, "axis": null},
     "color": {"field": "s", "type": "nominal", "scale": {"domain": ["d0","d4","d137"], "range": ["#ff00ff","#ff7f00","#ff0000"]}, "legend": null},
     "shape": {"field": "s", "type": "nominal", "scale": {"domain": ["d0","d4","d137"], "range": ["diamond","triangle-down","triangle-up"]}, "legend": null}
    }
   },
   {
    "data": {"name": "a_txt"},
    "mark": {"type": "text", "align": "left", "baseline": "middle", "fontSize": 14, "color": "#999999", "font": "Liberation Sans"},
    "encoding": {
     "x": {"field": "v", "type": "quantitative", "scale": {"domain": [-1, 1.61], "range": [41.7, 251.7], "nice": false, "zero": false}, "axis": null},
     "y": {"field": "j", "type": "quantitative", "scale": {"type": "log", "domain": [0.0049, 116], "range": [203.3, 18.3], "nice": false}, "axis": null},
     "text": {"field": "t"}
    }
   }
  ]
 },
 {
  "width": 503, "height": 371,
  "title": {"text": "b", "offset": -1, "dx": 7},
  "resolve": {"scale": {"x": "independent", "y": "independent", "shape": "independent"}, "axis": {"x": "independent", "y": "independent"}, "legend": {"color": "independent", "shape": "independent", "fill": "independent", "stroke": "independent"}},
  "layer": [
   {
    "data": {"name": "b_main"},
    "mark": {"type": "line", "strokeWidth": 1, "clip": true},
    "encoding": {
     "x": {"field": "v", "type": "quantitative", "scale": {"domain": [0, 0.8], "nice": false, "zero": false},
      "axis": {"orient": "bottom", "values": [0,0.05,0.1,0.15,0.2,0.25,0.3,0.35,0.4,0.45,0.5,0.55,0.6,0.65,0.7,0.75,0.8], "labelExpr": "abs(datum.value*10-round(datum.value*10))<1e-6 ? format(datum.value,'.1f') : ''", "title": "Voltage (V)", "labelPadding": 1, "titlePadding": 12, "encode": {"ticks": {"update": {"y2": {"signal": "abs(datum.value*10-round(datum.value*10))<1e-6 ? 7 : 4"}}}}}},
     "y": {"field": "j", "type": "quantitative", "scale": {"domain": [-28.9, 0], "nice": false, "zero": false},
      "axis": {"orient": "left", "values": [-27.5,-25,-22.5,-20,-17.5,-15,-12.5,-10,-7.5,-5,-2.5,0], "labelExpr": "abs(datum.value/5-round(datum.value/5))<1e-6 ? ''+datum.value : ''", "title": "current density\u00a0 (mA/cm²)", "labelPadding": 4, "titlePadding": 6, "encode": {"ticks": {"update": {"x2": {"signal": "abs(datum.value/5-round(datum.value/5))<1e-6 ? -7 : -4"}}}}}},
     "color": {"field": "s", "type": "nominal", "scale": {"domain": ["AP","L0","L4","L174","ref"], "range": ["#8c8c8c","#000000","#0000ff","#008080","#ff0000"]}, "legend": null}
    }
   },
   {
    "data": {"name": "b_ref"},
    "mark": {"type": "line", "strokeWidth": 2.2, "color": "#ff0000", "strokeDash": [9, 7], "clip": true},
    "encoding": {
     "x": {"field": "v", "type": "quantitative", "scale": {"domain": [0, 0.8], "nice": false, "zero": false},
      "axis": {"orient": "bottom", "domain": false, "ticks": false, "labels": false, "title": "c", "titleFont": "Open Sans", "titleFontSize": 24, "titleFontWeight": "normal", "titleAngle": 0, "titleAlign": "right", "titleBaseline": "alphabetic", "titleX": 514.5, "titleY": 62.3}},
     "y": {"field": "j", "type": "quantitative", "scale": {"domain": [-28.9, 0], "nice": false, "zero": false}, "axis": null}
    }
   },
   {
    "data": {"name": "b_main"},
    "transform": [{"filter": "datum.s=='AP' && !datum.e"}],
    "mark": {"type": "point", "filled": true, "fill": "white", "stroke": "#8c8c8c", "strokeWidth": 1, "opacity": 1, "size": 40, "clip": true},
    "encoding": {
     "x": {"field": "v", "type": "quantitative", "scale": {"domain": [0, 0.8], "nice": false, "zero": false}, "axis": null},
     "y": {"field": "j", "type": "quantitative", "scale": {"domain": [-28.9, 0], "nice": false, "zero": false}, "axis": null}
    }
   },
   {
    "data": {"name": "b_main"},
    "transform": [{"filter": "datum.s!='AP' && !datum.e"}],
    "mark": {"type": "point", "filled": true, "opacity": 1, "size": 45, "clip": true},
    "encoding": {
     "x": {"field": "v", "type": "quantitative", "scale": {"domain": [0, 0.8], "nice": false, "zero": false},
      "axis": {"orient": "top", "values": [0,0.05,0.1,0.15,0.2,0.25,0.3,0.35,0.4,0.45,0.5,0.55,0.6,0.65,0.7,0.75,0.8], "labels": false, "title": null, "encode": {"ticks": {"update": {"y2": {"signal": "abs(datum.value*10-round(datum.value*10))<1e-6 ? 7 : 4"}}}}}},
     "y": {"field": "j", "type": "quantitative", "scale": {"domain": [-28.9, 0], "nice": false, "zero": false},
      "axis": {"orient": "right", "values": [-27.5,-25,-22.5,-20,-17.5,-15,-12.5,-10,-7.5,-5,-2.5,0], "labels": false, "title": null, "encode": {"ticks": {"update": {"x2": {"signal": "abs(datum.value/5-round(datum.value/5))<1e-6 ? -7 : -4"}}}}}},
     "color": {"field": "s", "type": "nominal", "scale": {"domain": ["AP","L0","L4","L174","ref"], "range": ["#8c8c8c","#000000","#0000ff","#008080","#ff0000"]}, "legend": null},
     "shape": {"field": "s", "type": "nominal", "scale": {"domain": ["L0","L4","L174"], "range": ["circle","square","triangle-down"]}, "legend": null}
    }
   },
   {
    "data": {"name": "b_main"},
    "transform": [{"filter": "false"}],
    "mark": {"type": "point", "opacity": 1, "size": 100, "strokeWidth": 1.4},
    "encoding": {
     "x": {"field": "v", "type": "quantitative", "scale": {"domain": [0, 0.8], "nice": false, "zero": false}, "axis": null},
     "y": {"field": "j", "type": "quantitative", "scale": {"domain": [-28.9, 0], "nice": false, "zero": false}, "axis": null},
     "fill": {"field": "s", "type": "nominal", "scale": {"domain": ["AP","L0","L4","L174","ref"], "range": ["#ffffff","#000000","#0000ff","#008080","#ffffff"]},
      "legend": {"title": null, "orient": "none", "legendX": 22, "legendY": 273, "labelFontSize": 14.5, "symbolSize": 100, "symbolStrokeWidth": 1.4, "labelOffset": 16, "rowPadding": 3.5, "labelExpr": "datum.label=='AP' ? 'AP (d0)' : datum.label=='L0' ? 'LT-PDA (d0)' : datum.label=='L4' ? 'LT-PDA (d4)' : datum.label=='L174' ? 'LT-PDA (d174)' : 'HT-PDA ref.'"}},
     "stroke": {"field": "s", "type": "nominal", "scale": {"domain": ["AP","L0","L4","L174","ref"], "range": ["#9a9a9a","#000000","#4040ff","#40a0a0","#ff0000"]},
      "legend": {"title": null, "orient": "none", "legendX": 22, "legendY": 273, "labelFontSize": 14.5, "symbolSize": 100, "symbolStrokeWidth": 1.4, "labelOffset": 16, "rowPadding": 3.5, "labelExpr": "datum.label=='AP' ? 'AP (d0)' : datum.label=='L0' ? 'LT-PDA (d0)' : datum.label=='L4' ? 'LT-PDA (d4)' : datum.label=='L174' ? 'LT-PDA (d174)' : 'HT-PDA ref.'"}},
     "shape": {"field": "s", "type": "nominal", "scale": {"domain": ["AP","L0","L4","L174","ref"], "range": ["M-2.6,0L-0.9,0M0.9,0L2.6,0M0.7,0A0.7,0.7,0,1,1,-0.7,0A0.7,0.7,0,1,1,0.7,0Z", "M-2.6,0L-0.9,0M0.9,0L2.6,0M0.7,0A0.7,0.7,0,1,1,-0.7,0A0.7,0.7,0,1,1,0.7,0Z", "M-2.6,0L-0.9,0M0.9,0L2.6,0M-0.65,-0.65L0.65,-0.65L0.65,0.65L-0.65,0.65Z", "M-2.6,0L-0.9,0M0.9,0L2.6,0M-0.75,-0.55L0.75,-0.55L0,0.75Z", "M-2.6,0L-0.1,0M1.0,0L2.6,0"]},
      "legend": {"title": null, "orient": "none", "legendX": 22, "legendY": 273, "labelFontSize": 14.5, "symbolSize": 100, "symbolStrokeWidth": 1.4, "labelOffset": 16, "rowPadding": 3.5, "labelExpr": "datum.label=='AP' ? 'AP (d0)' : datum.label=='L0' ? 'LT-PDA (d0)' : datum.label=='L4' ? 'LT-PDA (d4)' : datum.label=='L174' ? 'LT-PDA (d174)' : 'HT-PDA ref.'"}}
    }
   },
   {
    "data": {"name": "b_box"},
    "mark": {"type": "rect", "fill": "white", "stroke": null},
    "encoding": {
     "x": {"field": "x1", "type": "quantitative", "scale": {"domain": [-1, 1.76], "range": [290, 477.2], "nice": false, "zero": false},
      "axis": {"orient": "bottom", "offset": -30, "values": [-1,-0.75,-0.5,-0.25,0,0.25,0.5,0.75,1,1.25,1.5,1.75], "labelExpr": "abs(datum.value*2-round(datum.value*2))<1e-6 ? replace(format(datum.value,'.1f'),'−','-') : ''", "labelFontSize": 8.5, "labelPadding": 2, "tickSize": 2, "title": "V (V)", "titleFontSize": 9.5, "titleAngle": 0, "titleAlign": "right", "titleBaseline": "middle", "titleX": 282, "titleY": 9, "domainWidth": 1, "tickWidth": 0.8, "encode": {"ticks": {"update": {"y2": {"signal": "abs(datum.value*2-round(datum.value*2))<1e-6 ? -3 : -1.5"}}}}}},
     "x2": {"field": "x2"},
     "y": {"field": "y1", "type": "quantitative", "scale": {"type": "log", "domain": [0.0048, 104], "range": [341, 159], "nice": false},
      "axis": {"orient": "right", "offset": -25.8, "values": [0.01,0.1,1,10,100], "labelExpr": "format(datum.value,'~g')", "labelFontSize": 9, "labelPadding": 2, "tickSize": 1, "title": "J (mA/cm²)", "titleFontSize": 9.5, "titleAngle": 0, "titleAlign": "center", "titleBaseline": "middle", "titleX": -11, "titleY": 140, "domainWidth": 1, "tickWidth": 0.8, "encode": {"ticks": {"update": {"x2": {"value": -3}}}}}},
     "y2": {"field": "y2"}
    }
   },
   {
    "data": {"name": "b_inset"},
    "transform": [{"filter": "datum.s=='ref'"}],
    "mark": {"type": "line", "strokeWidth": 1, "color": "#ff0000", "strokeDash": [2, 2]},
    "encoding": {
     "x": {"field": "v", "type": "quantitative", "scale": {"domain": [-1, 1.76], "range": [290, 477.2], "nice": false, "zero": false}, "axis": null},
     "y": {"field": "j", "type": "quantitative", "scale": {"type": "log", "domain": [0.0048, 104], "range": [341, 159], "nice": false}, "axis": null}
    }
   },
   {
    "data": {"name": "b_inset"},
    "transform": [{"filter": "datum.s!='ref'"}],
    "mark": {"type": "line", "strokeWidth": 1.3},
    "encoding": {
     "x": {"field": "v", "type": "quantitative", "scale": {"domain": [-1, 1.76], "range": [290, 477.2], "nice": false, "zero": false},
      "axis": {"orient": "top", "offset": -159, "values": [-1,-0.75,-0.5,-0.25,0,0.25,0.5,0.75,1,1.25,1.5,1.75], "labels": false, "title": null, "tickSize": 2, "domainWidth": 1, "tickWidth": 0.8, "encode": {"ticks": {"update": {"y2": {"signal": "abs(datum.value*2-round(datum.value*2))<1e-6 ? 3 : 1.5"}}}}}},
     "y": {"field": "j", "type": "quantitative", "scale": {"type": "log", "domain": [0.0048, 104], "range": [341, 159], "nice": false},
      "axis": {"orient": "left", "offset": -290, "values": [0.01,0.1,1,10,100], "labels": false, "title": null, "tickSize": 2, "domainWidth": 1, "tickWidth": 0.8, "encode": {"ticks": {"update": {"x2": {"value": 3}}}}}},
     "color": {"field": "s", "type": "nominal", "scale": {"domain": ["AP","L0","L4","L174","ref"], "range": ["#8c8c8c","#000000","#0000ff","#008080","#ff0000"]}, "legend": null}
    }
   },
   {
    "data": {"name": "b_mk"},
    "mark": {"type": "point", "filled": true, "opacity": 1, "size": 50},
    "encoding": {
     "x": {"field": "v", "type": "quantitative", "scale": {"domain": [-1, 1.76], "range": [290, 477.2], "nice": false, "zero": false}, "axis": null},
     "y": {"field": "j", "type": "quantitative", "scale": {"type": "log", "domain": [0.0048, 104], "range": [341, 159], "nice": false}, "axis": null},
     "color": {"field": "s", "type": "nominal", "scale": {"domain": ["AP","L0","L4","L174","ref"], "range": ["#8c8c8c","#000000","#0000ff","#008080","#ff0000"]}, "legend": null},
     "shape": {"field": "s", "type": "nominal", "scale": {"domain": ["L0","L4","L174"], "range": ["circle","square","triangle-down"]}, "legend": null}
    }
   },
   {
    "data": {"name": "b_txt"},
    "mark": {"type": "text", "align": "center", "baseline": "middle", "fontSize": 15, "color": "#999999", "font": "Liberation Sans"},
    "encoding": {
     "x": {"field": "v", "type": "quantitative", "scale": {"domain": [-1, 1.76], "range": [290, 477.2], "nice": false, "zero": false}, "axis": null},
     "y": {"field": "j", "type": "quantitative", "scale": {"type": "log", "domain": [0.0048, 104], "range": [341, 159], "nice": false}, "axis": null},
     "text": {"field": "t"}
    }
   }
  ]
 }
 ]
 },
 {
  "width": 509, "height": 377,
  "resolve": {"scale": {"x": "independent", "y": "independent", "shape": "independent"}, "axis": {"x": "independent", "y": "independent"}, "legend": {"color": "independent", "shape": "independent", "fill": "independent", "stroke": "independent"}},
  "layer": [
   {
    "data": {"name": "c_dash"},
    "mark": {"type": "line", "strokeWidth": 1, "strokeDash": [5, 4], "clip": true},
    "encoding": {
     "x": {"field": "v", "type": "quantitative", "scale": {"domain": [-0.3, 1.8], "nice": false, "zero": false}, "axis": null},
     "y": {"field": "j", "type": "quantitative", "scale": {"domain": [-22.5, 35], "nice": false, "zero": false}, "axis": null},
     "color": {"field": "s", "type": "nominal", "scale": {"domain": ["L0","L8","L22","ref","dref","d22","d8","d0"], "range": ["#000000","#0000ff","#008080","#ff0000","#ff0000","#3b3bff","#1fa0a0","#000000"]}, "legend": null}
    }
   },
   {
    "data": {"name": "c_hr"},
    "mark": {"type": "rule", "strokeWidth": 1.6, "color": "#000"},
    "encoding": {
     "x": {"field": "v", "type": "quantitative", "scale": {"domain": [-0.3, 1.8], "nice": false, "zero": false}, "axis": null},
     "x2": {"field": "v2"},
     "y": {"field": "j", "type": "quantitative", "scale": {"domain": [-22.5, 35], "nice": false, "zero": false}, "axis": null}
    }
   },
   {
    "data": {"name": "c_vr"},
    "mark": {"type": "rule", "strokeWidth": 1.6, "color": "#000"},
    "encoding": {
     "x": {"field": "v", "type": "quantitative", "scale": {"domain": [-0.3, 1.8], "nice": false, "zero": false}, "axis": null},
     "y": {"field": "j", "type": "quantitative", "scale": {"domain": [-22.5, 35], "nice": false, "zero": false}, "axis": null},
     "y2": {"field": "j2"}
    }
   },
   {
    "data": {"name": "c_main"},
    "mark": {"type": "line", "strokeWidth": 1, "clip": true},
    "encoding": {
     "x": {"field": "v", "type": "quantitative", "scale": {"domain": [-0.3, 1.8], "nice": false, "zero": false},
      "axis": {"orient": "bottom", "values": [-0.3,-0.2,-0.1,0,0.1,0.2,0.3,0.4,0.5,0.6,0.7,0.8,0.9,1,1.1,1.2,1.3,1.4,1.5,1.6,1.7,1.8], "labelExpr": "abs(datum.value*2-round(datum.value*2))<1e-6 ? format(datum.value,'.1f') : ''", "title": "Voltage (V)", "labelPadding": 6, "titlePadding": 4, "titleFontSize": 18, "encode": {"ticks": {"update": {"y2": {"signal": "abs(datum.value*2-round(datum.value*2))<1e-6 ? 7 : 4"}}}}}},
     "y": {"field": "j", "type": "quantitative", "scale": {"domain": [-22.5, 35], "nice": false, "zero": false},
      "axis": {"orient": "left", "values": [-20,-15,-10,-5,0,5,10,15,20,25,30,35], "labelExpr": "abs(datum.value/10-round(datum.value/10))<1e-6 ? ''+datum.value : ''", "title": "current density (mA/cm²)", "labelPadding": 4, "titlePadding": 11, "encode": {"ticks": {"update": {"x2": {"signal": "abs(datum.value/10-round(datum.value/10))<1e-6 ? -7 : -4"}}}}}},
     "color": {"field": "s", "type": "nominal", "scale": {"domain": ["L0","L8","L22","ref","dref","d22","d8","d0"], "range": ["#000000","#0000ff","#008080","#ff0000","#ff0000","#3b3bff","#1fa0a0","#000000"]}, "legend": null}
    }
   },
   {
    "data": {"name": "c_main"},
    "transform": [{"filter": "!datum.e"}],
    "mark": {"type": "point", "filled": true, "opacity": 1, "size": 36, "clip": true},
    "encoding": {
     "x": {"field": "v", "type": "quantitative", "scale": {"domain": [-0.3, 1.8], "nice": false, "zero": false},
      "axis": {"orient": "top", "values": [-0.3,-0.2,-0.1,0,0.1,0.2,0.3,0.4,0.5,0.6,0.7,0.8,0.9,1,1.1,1.2,1.3,1.4,1.5,1.6,1.7,1.8], "labels": false, "title": null, "encode": {"ticks": {"update": {"y2": {"signal": "abs(datum.value*2-round(datum.value*2))<1e-6 ? 7 : 4"}}}}}},
     "y": {"field": "j", "type": "quantitative", "scale": {"domain": [-22.5, 35], "nice": false, "zero": false},
      "axis": {"orient": "right", "values": [-20,-15,-10,-5,0,5,10,15,20,25,30,35], "labels": false, "title": null, "encode": {"ticks": {"update": {"x2": {"signal": "abs(datum.value/10-round(datum.value/10))<1e-6 ? -7 : -4"}}}}}},
     "color": {"field": "s", "type": "nominal", "scale": {"domain": ["L0","L8","L22","ref","dref","d22","d8","d0"], "range": ["#000000","#0000ff","#008080","#ff0000","#ff0000","#3b3bff","#1fa0a0","#000000"]}, "legend": null},
     "shape": {"field": "s", "type": "nominal", "scale": {"domain": ["L0","L8","L22","ref"], "range": ["circle","square","triangle-down","triangle-up"]}, "legend": null}
    }
   },
   {
    "data": {"name": "c_main"},
    "transform": [{"filter": "false"}],
    "mark": {"type": "point", "opacity": 1, "size": 100, "strokeWidth": 1.3},
    "encoding": {
     "x": {"field": "v", "type": "quantitative", "scale": {"domain": [-0.3, 1.8], "nice": false, "zero": false}, "axis": null},
     "y": {"field": "j", "type": "quantitative", "scale": {"domain": [-22.5, 35], "nice": false, "zero": false}, "axis": null},
     "fill": {"field": "s", "type": "nominal", "scale": {"domain": ["L0","L8","L22","ref"], "range": ["#000000","#0000ff","#008080","#ff0000"]},
      "legend": {"title": null, "orient": "none", "legendX": 35, "legendY": 12.5, "labelFontSize": 18, "symbolSize": 100, "symbolStrokeWidth": 1.3, "labelOffset": 14, "rowPadding": 4.6, "labelExpr": "datum.label=='L0' ? 'LT-PDA (d0)' : datum.label=='L8' ? 'LT-PDA (d8)' : datum.label=='L22' ? 'LT-PDA (d22)' : 'HT-PDA (ref.)'"}},
     "stroke": {"field": "s", "type": "nominal", "scale": {"domain": ["L0","L8","L22","ref"], "range": ["#000000","#6060ff","#40a0a0","#ff5050"]},
      "legend": {"title": null, "orient": "none", "legendX": 35, "legendY": 12.5, "labelFontSize": 18, "symbolSize": 100, "symbolStrokeWidth": 1.3, "labelOffset": 14, "rowPadding": 4.6, "labelExpr": "datum.label=='L0' ? 'LT-PDA (d0)' : datum.label=='L8' ? 'LT-PDA (d8)' : datum.label=='L22' ? 'LT-PDA (d22)' : 'HT-PDA (ref.)'"}},
     "shape": {"field": "s", "type": "nominal", "scale": {"domain": ["L0","L8","L22","ref"], "range": ["M-4.1,0L-1.5,0M1.5,0L4.1,0M0.6,0A0.6,0.6,0,1,1,-0.6,0A0.6,0.6,0,1,1,0.6,0Z", "M-4.1,0L-1.5,0M1.5,0L4.1,0M-0.55,-0.55L0.55,-0.55L0.55,0.55L-0.55,0.55Z", "M-4.1,0L-1.5,0M1.5,0L4.1,0M-0.65,-0.5L0.65,-0.5L0,0.65Z", "M-4.1,0L-1.5,0M1.5,0L4.1,0M0,-0.65L0.65,0.5L-0.65,0.5Z"]},
      "legend": {"title": null, "orient": "none", "legendX": 35, "legendY": 12.5, "labelFontSize": 18, "symbolSize": 100, "symbolStrokeWidth": 1.3, "labelOffset": 14, "rowPadding": 4.6, "labelExpr": "datum.label=='L0' ? 'LT-PDA (d0)' : datum.label=='L8' ? 'LT-PDA (d8)' : datum.label=='L22' ? 'LT-PDA (d22)' : 'HT-PDA (ref.)'"}}
    }
   },
   {
    "data": {"name": "c_lbl"},
    "mark": {"type": "text", "align": "center", "baseline": "middle", "fontSize": 15, "fontWeight": "bold", "font": "Open Sans"},
    "encoding": {
     "x": {"field": "v", "type": "quantitative", "scale": {"domain": [-0.3, 1.8], "nice": false, "zero": false}, "axis": null},
     "y": {"field": "j", "type": "quantitative", "scale": {"domain": [-22.5, 35], "nice": false, "zero": false}, "axis": null},
     "text": {"field": "t"},
     "color": {"field": "s", "type": "nominal", "scale": {"domain": ["L0","L8","L22","ref","dref","d22","d8","d0"], "range": ["#000000","#0000ff","#008080","#ff0000","#ff2020","#4b40e0","#20a0a0","#000000"]}, "legend": null}
    }
   }
  ]
 }
]
}
